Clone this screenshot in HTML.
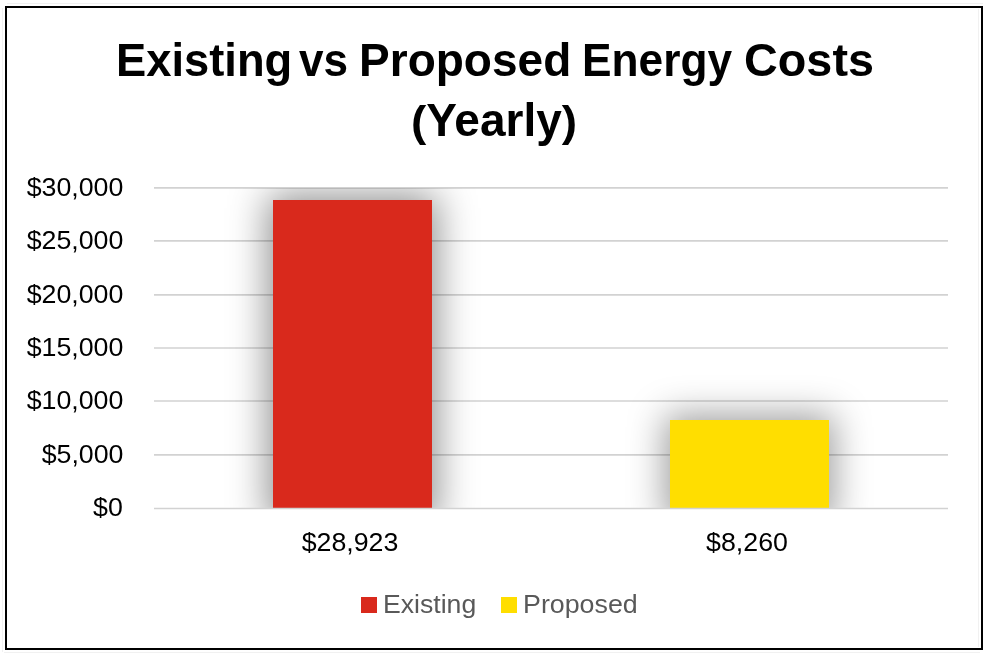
<!DOCTYPE html>
<html>
<head>
<meta charset="utf-8">
<style>
html,body{margin:0;padding:0;background:#fff;width:988px;height:655px;overflow:hidden;position:relative;font-family:"Liberation Sans",sans-serif;}
.box{position:absolute;left:5px;top:6px;width:974px;height:640px;border:2px solid #000;}
.t{position:absolute;white-space:nowrap;line-height:1;}
.title{font-weight:bold;font-size:46px;color:#000;left:0;width:988px;text-align:center;}
.tw{font-weight:bold;font-size:46px;color:#000;top:37px;transform-origin:0 39px;}
.yl{position:absolute;right:865px;font-size:25px;color:#000;text-align:right;transform:scaleX(1.07);transform-origin:100% 50%;}
.cat{font-size:25px;color:#000;text-align:center;width:200px;transform:scaleX(1.07);transform-origin:50% 50%;}
.leg{font-size:25px;color:#595959;transform-origin:0 50%;}
.par{display:inline-block;transform:scaleY(0.95);transform-origin:50% 70%;}
.faint{position:absolute;background:#f1f1f1;}
.sq{position:absolute;width:16px;height:16px;}
.clip{position:absolute;left:0;top:188px;width:988px;height:320px;overflow:hidden;}
.bar{position:absolute;box-shadow:0 0 36px 5px rgba(0,0,0,0.42);}
</style>
</head>
<body><div style="position:absolute;left:0;top:0;width:988px;height:655px;will-change:transform">
<div class="faint" style="left:2px;top:8px;width:1px;height:644px"></div>
<div class="faint" style="left:7px;top:3px;width:976px;height:1px"></div>
<div class="faint" style="left:978px;top:9px;width:1px;height:638px"></div>
<div class="faint" style="left:4px;top:652px;width:976px;height:1px"></div>
<div class="box"></div>
<div class="t tw" style="left:115.6px;transform:scale(0.985,0.985)">Existing</div>
<div class="t tw" style="left:299.4px;transform:scale(0.959,0.985)">vs</div>
<div class="t tw" style="left:359.1px;transform:scale(1.0,0.985)">Proposed</div>
<div class="t tw" style="left:582.4px;transform:scale(0.962,0.985)">Energy</div>
<div class="t tw" style="left:743.5px;transform:scale(1.017,0.985)">Costs</div>
<div class="t title" style="top:97px;transform:scaleY(0.985);transform-origin:50% 39px"><span class="par">(</span>Yearly<span class="par">)</span></div>

<svg style="position:absolute;left:0;top:0" width="988" height="655">
  <g stroke="#d2d2d2" stroke-width="1.6">
    <line x1="154" x2="948" y1="187.86" y2="187.86"/>
    <line x1="154" x2="948" y1="240.85" y2="240.85"/>
    <line x1="154" x2="948" y1="294.87" y2="294.87"/>
    <line x1="154" x2="948" y1="347.95" y2="347.95"/>
    <line x1="154" x2="948" y1="400.97" y2="400.97"/>
    <line x1="154" x2="948" y1="454.87" y2="454.87"/>
  </g>
</svg>

<div class="clip">
  <div class="bar" style="left:273px;top:12px;width:159px;height:320px;background:#d9291c;box-shadow:0 0 36px 5px rgba(0,0,0,0.44)"></div>
  <div class="bar" style="left:670px;top:232px;width:159px;height:100px;background:#ffde00;box-shadow:0 0 36px 5px rgba(0,0,0,0.39)"></div>
</div>

<svg style="position:absolute;left:0;top:0" width="988" height="655">
  <line x1="154" x2="948" y1="508.5" y2="508.5" stroke="#d2d2d2" stroke-width="1.6"/>
</svg>

<div class="t yl" style="top:175px">$30,000</div>
<div class="t yl" style="top:228px">$25,000</div>
<div class="t yl" style="top:282px">$20,000</div>
<div class="t yl" style="top:335px">$15,000</div>
<div class="t yl" style="top:388px">$10,000</div>
<div class="t yl" style="top:442px">$5,000</div>
<div class="t yl" style="top:495px">$0</div>

<div class="t cat" style="left:250px;top:530px">$28,923</div>
<div class="t cat" style="left:647px;top:530px">$8,260</div>

<div class="sq" style="left:361px;top:597px;background:#d9291c"></div>
<div class="t leg" style="left:383px;top:592px;transform:scaleX(1.065)">Existing</div>
<div class="sq" style="left:501px;top:597px;background:#ffde00"></div>
<div class="t leg" style="left:523px;top:592px;transform:scaleX(1.072)">Proposed</div>
</div></body>
</html>
